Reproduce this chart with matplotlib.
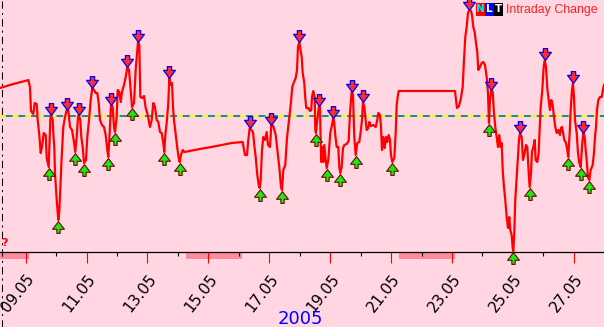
import numpy as np
import matplotlib
matplotlib.use("Agg")
import matplotlib.pyplot as plt
import matplotlib.transforms as mtransforms
from matplotlib.path import Path
from matplotlib.patches import Rectangle
from matplotlib.lines import Line2D

# intraday change, May 2005 (x = day of month, fractional)
day = [
    8.156, 8.593, 8.977, 9.085, 9.141, 9.174, 9.250, 9.296, 9.361, 9.394,
    9.447, 9.493, 9.545, 9.591, 9.657, 9.690, 9.755, 9.808, 9.831, 9.887,
    9.906, 9.939, 9.962, 10.018, 10.051, 10.071, 10.103, 10.136, 10.182, 10.235,
    10.291, 10.346, 10.399, 10.455, 10.521, 10.586, 10.629, 10.675, 10.718, 10.741,
    10.793, 10.826, 10.872, 10.915, 10.980, 11.023, 11.079, 11.135, 11.187, 11.243,
    11.299, 11.351, 11.397, 11.440, 11.506, 11.571, 11.627, 11.680, 11.713, 11.768,
    11.801, 11.857, 11.900, 11.933, 11.988, 12.021, 12.074, 12.120, 12.163, 12.228,
    12.284, 12.337, 12.392, 12.448, 12.491, 12.557, 12.612, 12.665, 12.688, 12.731,
    12.764, 12.829, 12.885, 12.941, 12.993, 13.082,
    13.138, 13.190, 13.246, 13.302, 13.355, 13.410, 13.466, 13.519, 13.552, 13.585,
    13.630, 13.683, 13.716, 13.762, 13.805, 13.837, 13.870, 13.936, 13.979, 14.025,
    14.057, 14.100, 14.156, 14.208, 14.724, 15.272, 15.765, 16.126, 16.159, 16.202,
    16.268, 16.310, 16.356, 16.409, 16.465, 16.507, 16.553, 16.606, 16.652, 16.685,
    16.717, 16.760, 16.803, 16.859, 16.914, 16.957, 17.023, 17.066, 17.131, 17.210,
    17.276, 17.328, 17.384, 17.417, 17.460, 17.525, 17.581, 17.647, 17.703, 17.755,
    17.811, 17.867, 17.910, 17.942, 17.985,
    18.064, 18.097, 18.149, 18.182, 18.215, 18.281, 18.336, 18.379, 18.402, 18.445,
    18.491, 18.511, 18.533, 18.576, 18.632, 18.665, 18.688, 18.708, 18.740, 18.773,
    18.806, 18.852, 18.885, 18.937, 18.970, 19.003, 19.059, 19.102, 19.134, 19.167,
    19.213, 19.266, 19.299, 19.332, 19.377, 19.420, 19.463, 19.542, 19.607, 19.650,
    19.706, 19.749, 19.791, 19.837, 19.890, 19.955, 20.001, 20.044, 20.077, 20.120,
    20.166, 20.198, 20.251, 20.284, 20.330, 20.415, 20.494, 20.547, 20.579, 20.635,
    20.668, 20.701, 20.744, 20.790, 20.832, 20.875, 20.921, 20.964, 20.996, 21.039,
    21.105, 21.151, 21.184, 21.217, 21.249, 23.098,
    23.131, 23.164, 23.230, 23.295, 23.351, 23.394, 23.437, 23.482, 23.525, 23.568,
    23.624, 23.657, 23.699, 23.745, 23.788, 23.831, 23.863, 23.919, 23.975, 24.028,
    24.083, 24.139, 24.182, 24.215, 24.248, 24.290, 24.336, 24.379, 24.422, 24.468,
    24.510, 24.553, 24.599, 24.632, 24.665, 24.707, 24.750, 24.796, 24.839, 24.881,
    24.914, 24.960, 24.993, 25.013, 25.046, 25.078, 25.124, 25.167, 25.200, 25.233,
    25.289, 25.331, 25.387, 25.430, 25.473, 25.519, 25.551, 25.594, 25.627, 25.670,
    25.716, 25.748, 25.801, 25.847, 25.867, 25.913, 25.965, 26.011, 26.044, 26.087,
    26.129, 26.175, 26.218, 26.261, 26.307, 26.349, 26.392, 26.438, 26.491, 26.546,
    26.579, 26.612, 26.645, 26.688, 26.734, 26.776, 26.819, 26.865, 26.898, 26.941,
    26.973, 27.006, 27.039, 27.095, 27.138, 27.180, 27.226, 27.279, 27.312, 27.358,
    27.390, 27.423, 27.466, 27.509, 27.555, 27.620, 27.663, 27.696, 27.729, 27.762,
    27.804, 27.860, 27.916, 27.968, 27.992,
]
change = [
    2.8, 3.2, 3.5, 3.6, 2.9, 0.5, 0.2, 1.3, 1.2, -0.4,
    -1.9, -3.7, -2.9, -1.7, -1.9, -4.2, -5.1, -0.4, 0.1, -0.4,
    -1.7, -3.1, -5.7, -8.4, -9.6, -10.4, -9.6, -7.4, -4.1, -1.1,
    -0.1, 0.6, 0.6, -1.1, -1.4, -2.6, -3.6, -2.1, -0.1, 0.1,
    -0.4, -2.1, -3.1, -4.7, -4.4, -2.1, -0.4, 1.6, 2.8, 2.6,
    2.3, 2.3, 1.3, -0.4, -0.9, -1.1, -1.9, -3.4, -4.1, -1.1,
    1.1, 0.9, -1.1, -1.6, -0.1, 2.6, 2.4, 1.4, 2.4, 3.1,
    3.9, 4.9, 4.6, 2.6, 0.9, 1.3, 4.6, 6.6, 7.4, 7.1,
    1.9, 1.8, 2.0, 0.8, 0.3, -1.1,
    -0.4, 1.3, 0.9, -0.4, -0.6, -1.6, -1.7, -2.7, -3.6, -1.9,
    -0.7, 1.3, 3.8, 3.1, 3.3, 0.9, -0.4, -2.1, -3.2, -4.2,
    -4.6, -3.9, -3.4, -3.6, -3.3, -3.0, -2.7, -2.6, -3.2, -3.9,
    -3.9, -2.4, -1.2, -1.4, -1.6, -2.9, -4.1, -5.9, -6.9, -7.2,
    -6.4, -3.4, -2.1, -2.4, -1.6, -2.9, -3.1, -0.9, -1.0, -1.9,
    -3.7, -5.1, -7.1, -7.4, -5.4, -4.9, -2.2, -0.4, 1.1, 2.9,
    3.4, 3.8, 4.6, 6.9, 7.4,
    5.9, 4.3, 3.3, 1.8, 0.8, 0.8, 0.5, 0.6, 1.9, 2.5,
    1.9, -1.4, -1.7, -0.4, 1.0, 0.9, -2.7, -4.6, -3.1, -4.6,
    -2.9, -4.4, -5.2, -4.4, -3.1, -1.7, -0.9, -0.2, -0.7, -1.9,
    -3.1, -3.1, -5.1, -5.7, -5.1, -3.2, -2.9, -2.8, -2.5, 0.3,
    2.4, 2.1, -2.1, -3.9, -2.7, -2.6, -1.6, -0.4, 1.4, 0.9,
    -0.4, -1.4, -1.2, -0.6, -1.0, -0.9, -1.1, -0.4, 0.3, 0.1,
    -1.1, -3.4, -2.1, -3.2, -2.1, -2.6, -1.9, -2.4, -3.9, -4.6,
    -4.2, -1.7, 1.1, 1.9, 2.5, 2.5,
    1.6, 0.8, 1.0, 1.8, 2.9, 5.6, 7.9, 8.9, 10.3, 10.6,
    10.5, 10.1, 8.9, 8.4, 7.3, 6.4, 4.6, 4.9, 5.3, 5.4,
    5.1, 3.9, 2.3, -0.7, 1.6, 2.6, 2.4, 0.3, -1.1, -2.1,
    -3.1, -1.9, -3.1, -2.7, -5.4, -7.1, -8.4, -10.1, -11.2, -10.1,
    -11.4, -11.9, -13.2, -13.5, -11.7, -8.4, -6.1, -4.1, -2.4, -1.7,
    -2.1, -4.4, -3.7, -2.9, -3.1, -5.7, -7.1, -5.7, -3.6, -3.1,
    -2.4, -4.4, -4.6, -3.7, -2.1, 0.9, 2.6, 4.9, 5.6, 4.9,
    2.8, 1.6, 0.6, 1.6, 1.1, -0.1, -1.1, -1.7, -1.4, -1.9,
    -1.2, -1.1, -1.6, -2.4, -2.6, -3.2, -4.1, -1.7, 0.6, 2.6,
    3.3, 1.9, -0.4, -1.7, -3.7, -4.7, -5.1, -2.7, -1.7, -2.1,
    -3.4, -4.4, -6.1, -6.4, -5.4, -4.9, -3.7, -2.1, -1.1, 0.6,
    1.6, 1.9, 1.9, 2.8, 3.1,
]

# marked local highs / lows
peak_days = [9.831, 10.346, 10.741, 11.187, 11.801, 12.337, 12.688, 13.716,
             16.356, 17.066, 17.985, 18.632, 19.102, 19.706, 20.077, 23.568,
             24.290, 25.233, 26.044, 26.973, 27.312]
trough_days = [9.755, 10.071, 10.629, 10.915, 11.713, 11.933, 12.491, 13.552,
               14.057, 16.685, 17.417, 18.533, 18.885, 19.332, 19.837, 21.039,
               24.215, 25.013, 25.551, 26.819, 27.226, 27.509]

# weekends (no trading)
weekend_start = [7.26, 14.26, 21.26]
weekend_end = [9.11, 16.10, 23.10]

major_days = [9, 11, 13, 15, 17, 19, 21, 23, 25, 27]
major_labels = ["09.05", "11.05", "13.05", "15.05", "17.05",
                "19.05", "21.05", "23.05", "25.05", "27.05"]
minor_days = [10, 12, 14, 16, 18, 20, 22, 24, 26]

BG = "#FFD6E2"
W, H = 604, 327

fig = plt.figure(figsize=(W / 100, H / 100), dpi=100, facecolor=BG)
ax = fig.add_axes([0, 75 / H, 1, 252 / H], facecolor=BG)

day = np.array(day)
change = np.array(change)

ax.axhline(0, color="#168C8C", lw=1.4, zorder=2)
ax.axhline(0, color="#FFFF00", lw=1.4, dashes=(3, 3.5), zorder=2)
ax.plot(day, change, color="#FF0000", lw=1.6, zorder=3)

# arrow markers
down_arrow = Path([(-0.18, 0.5), (0.18, 0.5), (0.18, 0.18), (0.5, 0.18),
                   (0, -0.5), (-0.5, 0.18), (-0.18, 0.18), (-0.18, 0.5)],
                  closed=True)
up_arrow = Path([(0, 0.5), (0.5, -0.15), (0.14, -0.15), (0.14, -0.5),
                 (-0.14, -0.5), (-0.14, -0.15), (-0.5, -0.15), (0, 0.5)],
                closed=True)

peak_vals = np.interp(peak_days, day, change)
trough_vals = np.interp(trough_days, day, change)
above = mtransforms.offset_copy(ax.transData, fig=fig, y=6, units="dots")
below = mtransforms.offset_copy(ax.transData, fig=fig, y=-7, units="dots")
ax.plot(peak_days, peak_vals, ls="none", marker=down_arrow, ms=8.5,
        mfc="#FF2A2A", mec="#0000FF", mew=0.9, transform=above, zorder=4,
        clip_on=False)
ax.plot(trough_days, trough_vals, ls="none", marker=up_arrow, ms=8.5,
        mfc="#11EE11", mec="#800000", mew=0.8, transform=below, zorder=4,
        clip_on=False)

ax.set_xlim(8.156, 27.992)
ax.set_ylim(-13.6, 11.6)

# weekend bars under the axis
band = mtransforms.blended_transform_factory(ax.transData, ax.transAxes)
for s, e in zip(weekend_start, weekend_end):
    ax.add_patch(Rectangle((s, -7 / 252), e - s, 7 / 252, transform=band,
                           facecolor="#FF8A9E", edgecolor="none",
                           clip_on=False, zorder=1))

for side in ["top", "left", "right"]:
    ax.spines[side].set_visible(False)
ax.spines["bottom"].set_color("black")
ax.spines["bottom"].set_linewidth(0.9)
ax.set_yticks([])

ax.set_xticks(major_days, labels=major_labels)
ax.set_xticks(minor_days, minor=True)
ax.tick_params(axis="x", which="major", direction="out", length=8,
               width=0.8, color="#FF0000", pad=9.5, labelsize=11,
               labelcolor="black")
ax.tick_params(axis="x", which="minor", direction="out", length=3,
               width=0.8, color="black")
shift = mtransforms.ScaledTranslation(6 / 100, 0, fig.dpi_scale_trans)
for lbl in ax.get_xticklabels():
    lbl.set_rotation(52)
    lbl.set_ha("right")
    lbl.set_va("center")
    lbl.set_rotation_mode("anchor")
    lbl.set_transform(lbl.get_transform() + shift)

# left dash-dot marker line through the whole figure
fig.add_artist(Line2D([2 / W, 2 / W], [0, 1], transform=fig.transFigure,
                      color="black", lw=0.75, dashes=(7, 4, 2, 4)))
ax.text(4 / W, 9 / 252, "?", transform=ax.transAxes, color="#FF0000",
        fontsize=8, fontweight="bold", ha="center", va="center")

# year label
fig.text(300 / W, 3.5 / H, "2005", color="#0000FF", fontsize=13,
         ha="center", va="baseline")

# legend
for i, (ch, bg, fg) in enumerate([("N", "#FF0000", "#00E8E8"),
                                  ("L", "#0000FF", "#FFFFFF"),
                                  ("T", "#000000", "#FFFFFF")]):
    x0 = 476 + i * 9
    fig.add_artist(Rectangle((x0 / W, 1 - 16 / H), 8.5 / W, 13 / H,
                             transform=fig.transFigure, facecolor=bg,
                             edgecolor="none"))
    fig.text((x0 + 4.25) / W, 1 - 9.5 / H, ch, color=fg, fontsize=7.5,
             fontweight="bold", ha="center", va="center")
fig.text(506 / W, 1 - 13 / H, "Intraday Change", color="#FF2020",
         fontsize=8.9, family="Liberation Sans", ha="left", va="baseline")

fig.savefig("out.png", dpi=100, facecolor=BG)
